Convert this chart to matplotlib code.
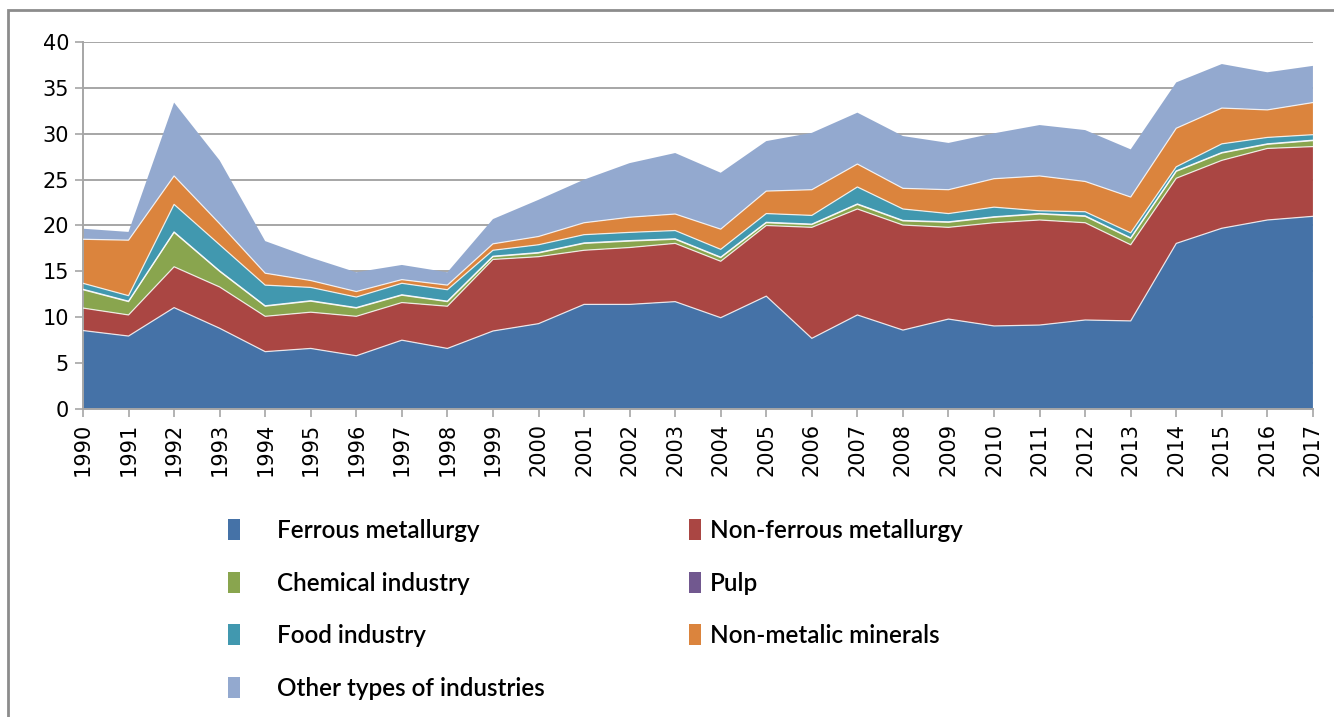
import numpy as np
import matplotlib.pyplot as plt
from matplotlib.patches import Patch, Rectangle

years = list(range(1990, 2018))

ferrous = [8.55, 7.95, 11.05, 8.8, 6.25, 6.6, 5.8, 7.5, 6.6, 8.5, 9.3, 11.4, 11.4, 11.7,
           9.95, 12.3, 7.7, 10.25, 8.6, 9.8, 9.05, 9.15, 9.7, 9.6, 18.05, 19.7, 20.6, 21.0]
non_ferrous = [2.45, 2.3, 4.45, 4.5, 3.85, 3.95, 4.3, 4.1, 4.6, 7.8, 7.3, 5.9, 6.2, 6.35,
               6.15, 7.7, 12.1, 11.55, 11.45, 10.0, 11.25, 11.45, 10.6, 8.3, 7.1, 7.4, 7.8, 7.6]
chemical = [2.0, 1.45, 3.75, 1.7, 1.1, 1.2, 0.9, 0.8, 0.5, 0.3, 0.4, 0.75, 0.7, 0.45,
            0.4, 0.3, 0.3, 0.5, 0.45, 0.55, 0.6, 0.65, 0.7, 0.7, 0.75, 0.8, 0.45, 0.65]
pulp = [0.05] * 28
food = [0.65, 0.6, 3.0, 2.85, 2.25, 1.45, 1.15, 1.25, 1.25, 0.65, 0.85, 0.9, 0.9, 0.9,
        0.85, 0.95, 0.95, 1.85, 1.25, 0.9, 1.05, 0.3, 0.45, 0.55, 0.45, 0.95, 0.7, 0.6]
non_metalic = [4.8, 6.05, 3.1, 2.3, 1.3, 0.75, 0.6, 0.4, 0.5, 0.7, 0.9, 1.3, 1.65, 1.8,
               2.2, 2.45, 2.8, 2.5, 2.25, 2.6, 3.1, 3.8, 3.3, 3.9, 4.2, 3.9, 3.0, 3.5]
other = [1.15, 0.9, 8.0, 6.9, 3.5, 2.5, 2.1, 1.6, 1.4, 2.7, 4.0, 4.7, 5.9, 6.65,
         6.15, 5.45, 6.2, 5.6, 5.7, 5.1, 4.95, 5.55, 5.6, 5.2, 5.0, 4.8, 4.1, 4.0]

names = ["Ferrous metallurgy", "Non-ferrous metallurgy", "Chemical industry", "Pulp",
         "Food industry", "Non-metalic minerals", "Other types of industries"]
colors = ["#4572A7", "#AA4643", "#89A54E", "#71588F", "#4198AF", "#DB843D", "#93A9CF"]
series = [ferrous, non_ferrous, chemical, pulp, food, non_metalic, other]

fig = plt.figure(figsize=(13.34, 7.17), dpi=100)
ax = fig.add_axes([0.0622, 0.4296, 0.9220, 0.5118])

ax.stackplot(years, *series, colors=colors, linewidth=0, zorder=2)
tops = np.cumsum(np.array(series), axis=0)
for row in tops[:-1]:
    ax.plot(years, row, color="white", linewidth=0.9, alpha=0.8, zorder=3)

ax.set_xlim(1990, 2017)
ax.set_ylim(0, 40)
ax.set_yticks(range(0, 45, 5))
ax.set_xticks(years)
ax.set_xticklabels([str(y) for y in years], rotation=90)
ax.yaxis.grid(True, color="#A6A6A6", linewidth=1.4, zorder=0)
ax.set_axisbelow(True)
ax.tick_params(axis="both", labelsize=15, color="#A6A6A6", length=6, width=1.2, pad=4)

for side in ["top", "right"]:
    ax.spines[side].set_visible(False)
for side in ["left", "bottom"]:
    ax.spines[side].set_color("#A6A6A6")
    ax.spines[side].set_linewidth(1.4)

# outer chart frame
fig.patches.append(Rectangle((8 / 1334, -0.1), 1.2, 1.1 - 10 / 717, transform=fig.transFigure,
                             fill=False, edgecolor="#8C8C8C", linewidth=2))

handles = [Patch(facecolor=c, edgecolor="none") for c in colors]
col1 = [0, 2, 4, 6]
col2 = [1, 3, 5]
leg_kw = dict(frameon=False, loc="upper left", borderpad=0, borderaxespad=0,
              labelspacing=1.22, handlelength=0.5, handleheight=0.95,
              prop={"family": ["Lato", "DejaVu Sans"], "size": 17.5, "weight": "semibold"})
leg1 = fig.legend([handles[i] for i in col1], [names[i] for i in col1],
                  bbox_to_anchor=(228 / 1334, 1 - 519 / 717), handletextpad=1.5, **leg_kw)
leg2 = fig.legend([handles[i] for i in col2], [names[i] for i in col2],
                  bbox_to_anchor=(689 / 1334, 1 - 519 / 717), handletextpad=0.35, **leg_kw)

fig.savefig("out.png", dpi=100)
